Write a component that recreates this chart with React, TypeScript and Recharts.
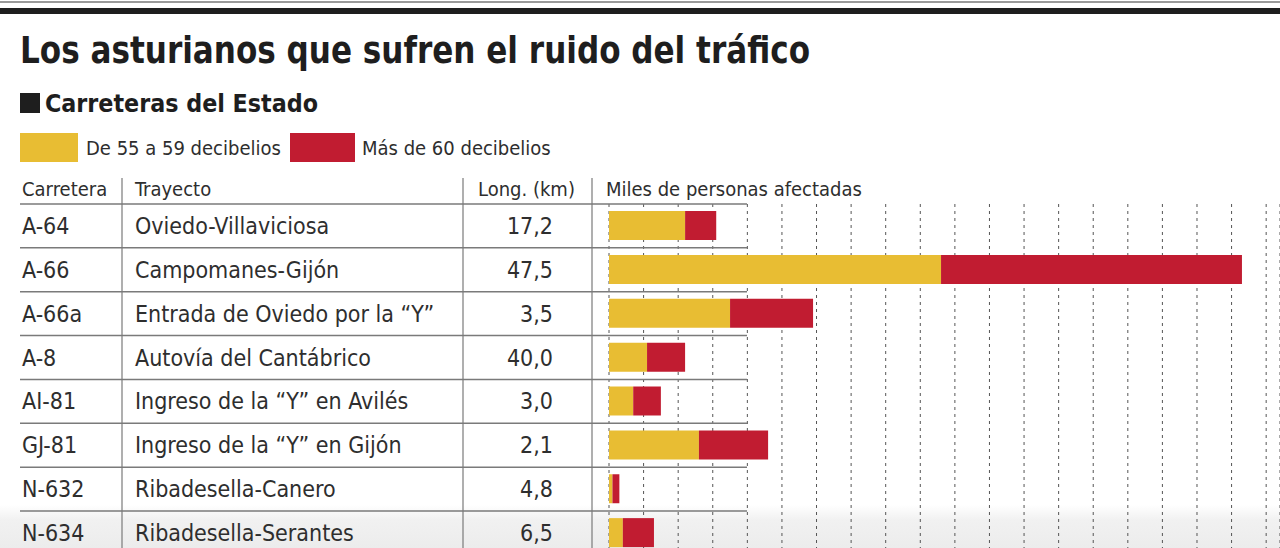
import { BarChart, Bar, XAxis, YAxis, CartesianGrid } from "recharts";

const carreteras = ["A-64", "A-66", "A-66a", "A-8", "AI-81", "GJ-81", "N-632", "N-634"];
const trayectos = [
  "Oviedo-Villaviciosa",
  "Campomanes-Gijón",
  "Entrada de Oviedo por la “Y”",
  "Autovía del Cantábrico",
  "Ingreso de la “Y” en Avilés",
  "Ingreso de la “Y” en Gijón",
  "Ribadesella-Canero",
  "Ribadesella-Serantes",
];
const longitudes = ["17,2", "47,5", "3,5", "40,0", "3,0", "2,1", "4,8", "6,5"];
// miles de personas afectadas
const de55a59 = [2.2, 9.6, 3.5, 1.1, 0.7, 2.6, 0.1, 0.4];
const mas60 = [0.9, 8.7, 2.4, 1.1, 0.8, 2.0, 0.2, 0.9];
const seriesNames = ["De 55 a 59 decibelios", "Más de 60 decibelios"];
const gridTicks = [0, 1, 2, 3, 4, 5, 6, 7, 8, 9, 10, 11, 12, 13, 14, 15, 16, 17, 18, 19];

const YELLOW = "#e8bd33";
const RED = "#c11c31";
const TEXT = "#2e2e2e";
const FONT = "'Liberation Sans Narrow', 'DejaVu Sans Condensed', sans-serif";

const data = carreteras.map((c, i) => ({
  carretera: c,
  trayecto: trayectos[i],
  longitud: longitudes[i],
  bajo: de55a59[i],
  alto: mas60[i],
}));

const ROW_H = 44;

function RowTick(props: any) {
  const { y, index } = props;
  const d = data[index];
  if (!d) return null;
  return (
    <g>
      <line x1={20} x2={747} y1={y - ROW_H / 2} y2={y - ROW_H / 2} stroke="#7a7a7a" strokeWidth={1.5} />
      <text x={22} y={y + 8} fontSize={23} fill={TEXT} fontFamily={FONT}>{d.carretera}</text>
      <text x={135} y={y + 8} fontSize={23} fill={TEXT} fontFamily={FONT}>{d.trayecto}</text>
      <text x={553} y={y + 8} fontSize={23} fill={TEXT} fontFamily={FONT} textAnchor="end">{d.longitud}</text>
    </g>
  );
}

const EmptyTick = () => <g />;

export default function App() {
  return (
    <div style={{ position: "relative", width: 1280, height: 548, overflow: "hidden", background: "#fff", fontFamily: FONT }}>
      <style>{`body{margin:0;overflow:hidden}`}</style>
      <svg width={1280} height={548} style={{ position: "absolute", left: 0, top: 0 }}>
        <defs>
          <linearGradient id="fondo" x1="0" y1="0" x2="0" y2="1">
            <stop offset="0" stopColor="#ffffff" />
            <stop offset="0.35" stopColor="#f1f1f1" />
            <stop offset="1" stopColor="#ececec" />
          </linearGradient>
        </defs>
        <rect x={0} y={505} width={1280} height={43} fill="url(#fondo)" />
      </svg>
      <div style={{ position: "absolute", left: 0, top: 0 }}>
        <BarChart width={1280} height={555} data={data} layout="vertical" barSize={29}
          margin={{ top: 204, right: 0, bottom: 0, left: 0 }}>
          <CartesianGrid horizontal={false} vertical stroke="#555" strokeDasharray="3 4" />
          <XAxis type="number" domain={[0, 19.4]} ticks={gridTicks} tick={<EmptyTick />} axisLine={false} tickLine={false} height={0} />
          <YAxis type="category" dataKey="carretera" width={609} axisLine={false} tickLine={false} tick={<RowTick />} interval={0} />
          <Bar dataKey="bajo" name={seriesNames[0]} stackId="a" fill={YELLOW} isAnimationActive={false} />
          <Bar dataKey="alto" name={seriesNames[1]} stackId="a" fill={RED} isAnimationActive={false} />
        </BarChart>
      </div>
      <svg width={1280} height={548} style={{ position: "absolute", left: 0, top: 0, pointerEvents: "none" }}>
        <rect x={0} y={1} width={1280} height={2} fill="#9a9a9a" />
        <rect x={0} y={8} width={1280} height={6} fill="#1e1e1e" />
        <text x={20} y={63} fontSize={38} fontWeight={700} fill="#1e1e1e" fontFamily={FONT} textLength={790} lengthAdjust="spacingAndGlyphs">
          Los asturianos que sufren el ruido del tráfico
        </text>
        <rect x={20} y={93} width={20} height={20} fill="#1e1e1e" />
        <text x={45} y={112} fontSize={25} fontWeight={700} fill="#1e1e1e" fontFamily={FONT} textLength={273} lengthAdjust="spacingAndGlyphs">
          Carreteras del Estado
        </text>
        {/* leyenda */}
        <rect x={20} y={133} width={58} height={29} fill={YELLOW} />
        <text x={86} y={155} fontSize={20} fill={TEXT} fontFamily={FONT}>{seriesNames[0]}</text>
        <rect x={290} y={133} width={65} height={29} fill={RED} />
        <text x={362} y={155} fontSize={20} fill={TEXT} fontFamily={FONT}>{seriesNames[1]}</text>
        {/* cabecera */}
        <text x={22} y={196} fontSize={20} fill={TEXT} fontFamily={FONT}>Carretera</text>
        <text x={135} y={196} fontSize={20} fill={TEXT} fontFamily={FONT}>Trayecto</text>
        <text x={478} y={196} fontSize={20} fill={TEXT} fontFamily={FONT}>Long. (km)</text>
        <text x={606} y={196} fontSize={20} fill={TEXT} fontFamily={FONT}>Miles de personas afectadas</text>
        <line x1={122} x2={122} y1={178} y2={548} stroke="#7a7a7a" strokeWidth={1.2} />
        <line x1={463} x2={463} y1={178} y2={548} stroke="#7a7a7a" strokeWidth={1.2} />
        <line x1={592} x2={592} y1={178} y2={548} stroke="#7a7a7a" strokeWidth={1.2} />
      </svg>
    </div>
  );
}
